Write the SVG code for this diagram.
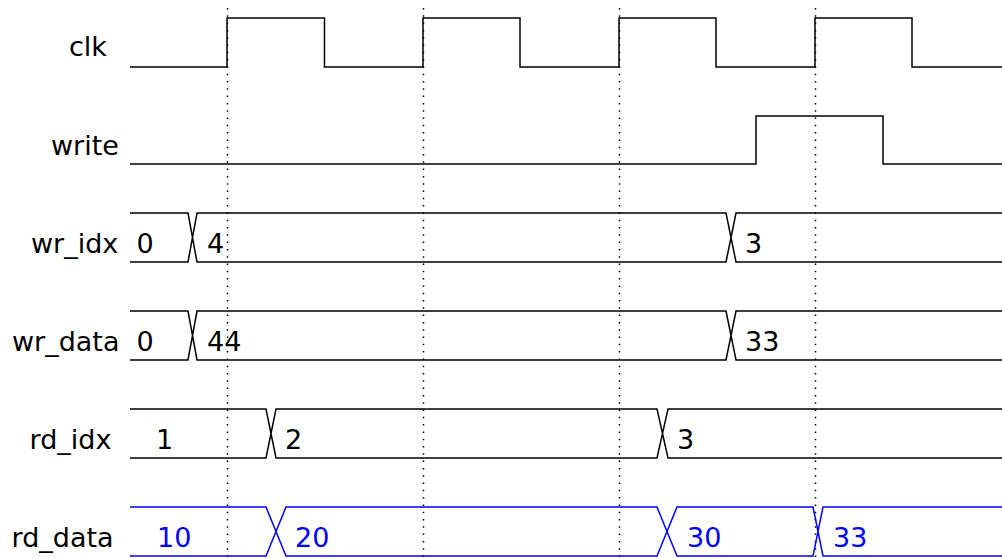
<svg xmlns="http://www.w3.org/2000/svg" width="1002" height="558" viewBox="0 0 1002 558">
<style>
.w{fill:none;stroke:#000;stroke-width:1.5}
.b{fill:none;stroke:#0000ff;stroke-width:1.5}
.g{stroke:#000;stroke-width:1.5;stroke-dasharray:1.5 5.8}
text{font-family:"DejaVu Sans",sans-serif;font-size:27px;fill:#000}
.bt{fill:#0000ff}
</style>
<rect width="1002" height="558" fill="#fff"/>
<g id="grid">
<line class="g" x1="227.5" y1="8" x2="227.5" y2="558"/>
<line class="g" x1="423.5" y1="8" x2="423.5" y2="558"/>
<line class="g" x1="619.5" y1="8" x2="619.5" y2="558"/>
<line class="g" x1="815.5" y1="8" x2="815.5" y2="558"/>
</g>
<g id="clk">
<text x="69" y="56">clk</text>
<polyline class="w" points="130,67 227,67 227,18 324.5,18 324.5,67 423,67 423,18 520,18 520,67 619,67 619,18 716,18 716,67 815,67 815,18 912,18 912,67 1002,67"/>
</g>
<g id="write">
<text x="51" y="155">write</text>
<polyline class="w" points="130,164 756,164 756,116 883,116 883,164 1002,164"/>
</g>
<g id="wr_idx">
<text x="31" y="253">wr_idx</text>
<path class="w" d="M130,213 H188 L197,262 H726 L736,213 H1002 M130,262 H188 L197,213 H726 L736,262 H1002"/>
<text x="136.5" y="253">0</text>
<text x="207" y="253">4</text>
<text x="745" y="253">3</text>
</g>
<g id="wr_data">
<text x="12" y="351">wr_data</text>
<path class="w" d="M130,311 H188 L197,360 H726 L736,311 H1002 M130,360 H188 L197,311 H726 L736,360 H1002"/>
<text x="136.5" y="351">0</text>
<text x="207" y="351">44</text>
<text x="745" y="351">33</text>
</g>
<g id="rd_idx">
<text x="29.5" y="448.5">rd_idx</text>
<path class="w" d="M130,409 H266 L276,458 H657 L668,409 H1002 M130,458 H266 L276,409 H657 L668,458 H1002"/>
<text x="156" y="448.5">1</text>
<text x="285" y="448.5">2</text>
<text x="677" y="448.5">3</text>
</g>
<g id="rd_data">
<text x="11.5" y="546.5">rd_data</text>
<path class="b" d="M130,507 H266 L286,556 H657 L677,507 H813 L823,556 H1002 M130,556 H266 L286,507 H657 L677,556 H813 L823,507 H1002"/>
<text class="bt" x="157" y="546.5">10</text>
<text class="bt" x="295" y="546.5">20</text>
<text class="bt" x="687" y="546.5">30</text>
<text class="bt" x="833" y="546.5">33</text>
</g>
</svg>
